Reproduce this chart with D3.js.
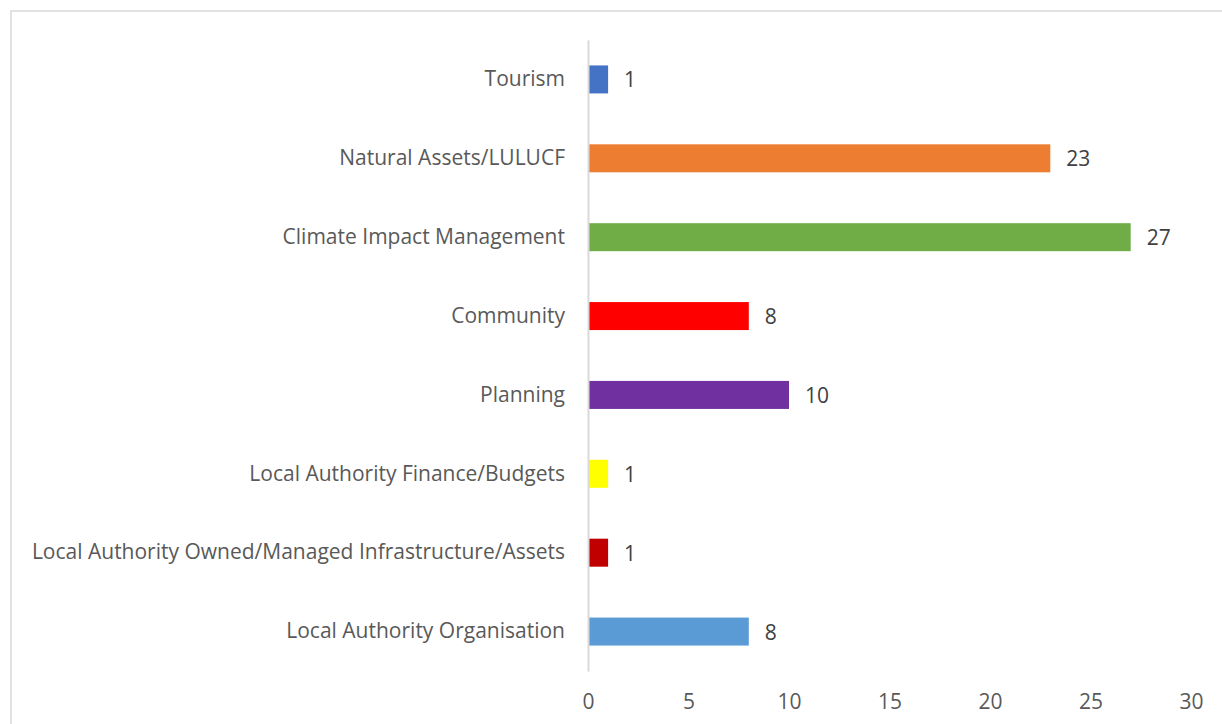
<!DOCTYPE html>
<html lang="en">
<head>
<meta charset="UTF-8" />
<title>Actions by Theme</title>
<script src="https://d3js.org/d3.v7.min.js"></script>
<style>
  body { margin: 0; background: #fff; font-family: "Open Sans", sans-serif; }
</style>
</head>
<body>
<svg id="chart" width="1222" height="724"></svg>
<script>
const categories = [
  "Tourism",
  "Natural Assets/LULUCF",
  "Climate Impact Management",
  "Community",
  "Planning",
  "Local Authority Finance/Budgets",
  "Local Authority Owned/Managed Infrastructure/Assets",
  "Local Authority Organisation"
];
const values = [1, 23, 27, 8, 10, 1, 1, 8];
const colors = ["#4472C4", "#ED7D31", "#70AD47", "#FF0000", "#7030A0", "#FFFF00", "#C00000", "#5B9BD5"];
const xTicks = [0, 5, 10, 15, 20, 25, 30];

const svg = d3.select("#chart");
const textColor = "#595959";
const fontSize = "21px";

// outer chart frame
svg.append("rect")
  .attr("x", 11).attr("y", 11)
  .attr("width", 1240).attr("height", 740)
  .attr("fill", "none")
  .attr("stroke", "#d9d9d9")
  .attr("stroke-width", 1.5);

const x = d3.scaleLinear().domain([0, 30]).range([588, 1191]);
const y = d3.scaleBand().domain(categories).range([40, 671]).paddingInner(0.645).paddingOuter(0.3225);

// bars
svg.selectAll("rect.bar")
  .data(categories)
  .join("rect")
  .attr("class", "bar")
  .attr("x", x(0))
  .attr("y", d => y(d))
  .attr("width", (d, i) => x(values[i]) - x(0))
  .attr("height", y.bandwidth())
  .attr("fill", (d, i) => colors[i]);

// value labels
svg.selectAll("text.val")
  .data(categories)
  .join("text")
  .attr("class", "val")
  .attr("x", (d, i) => x(values[i]) + 16)
  .attr("y", d => y(d) + y.bandwidth() / 2)
  .attr("dy", "0.38em")
  .attr("fill", "#404040")
  .style("font-size", fontSize)
  .text((d, i) => values[i]);

// category axis
const yAxis = svg.append("g")
  .attr("transform", `translate(${x(0)},0)`)
  .call(d3.axisLeft(y).tickSize(0).tickPadding(23));
yAxis.select(".domain").attr("stroke", "#d9d9d9").attr("stroke-width", 2);
yAxis.selectAll("text")
  .attr("fill", textColor)
  .style("font-size", fontSize)
  .style("font-family", "'Open Sans', sans-serif");

// value axis (labels only)
const xAxis = svg.append("g")
  .attr("transform", "translate(0,671)")
  .call(d3.axisBottom(x).tickValues(xTicks).tickSize(0).tickPadding(23));
xAxis.select(".domain").remove();
xAxis.selectAll("text")
  .attr("fill", textColor)
  .style("font-size", fontSize)
  .style("font-family", "'Open Sans', sans-serif");
</script>
</body>
</html>
